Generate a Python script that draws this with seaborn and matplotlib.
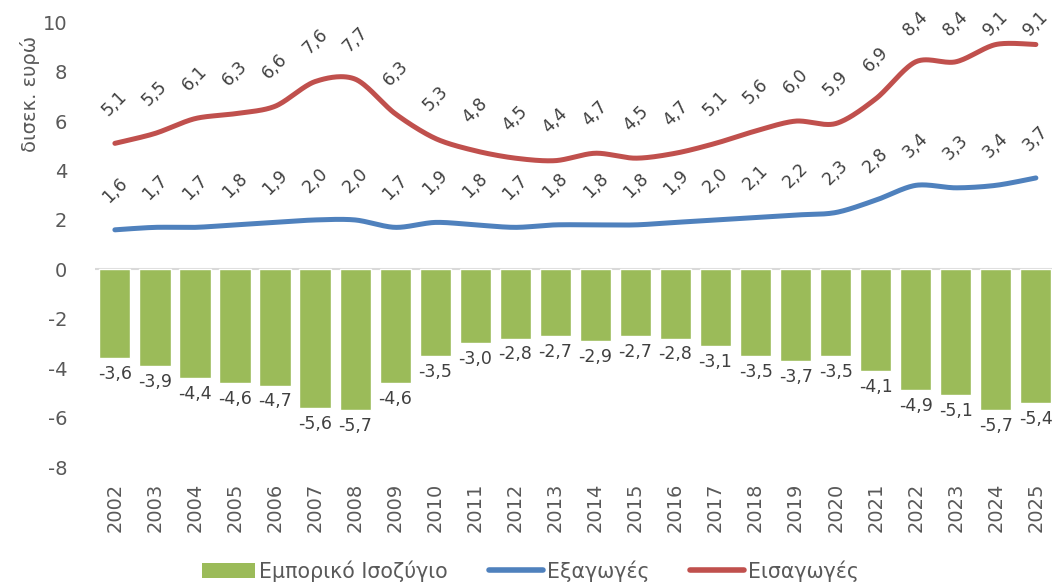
import numpy as np
import pandas as pd
import matplotlib
matplotlib.use("Agg")
import matplotlib.pyplot as plt
import seaborn as sns
from matplotlib.patches import Patch
from matplotlib.lines import Line2D

# data
years = [str(y) for y in range(2002, 2026)]
balance = [-3.6, -3.9, -4.4, -4.6, -4.7, -5.6, -5.7, -4.6, -3.5, -3.0, -2.8, -2.7,
           -2.9, -2.7, -2.8, -3.1, -3.5, -3.7, -3.5, -4.1, -4.9, -5.1, -5.7, -5.4]
exports = [1.6, 1.7, 1.7, 1.8, 1.9, 2.0, 2.0, 1.7, 1.9, 1.8, 1.7, 1.8,
           1.8, 1.8, 1.9, 2.0, 2.1, 2.2, 2.3, 2.8, 3.4, 3.3, 3.4, 3.7]
imports = [5.1, 5.5, 6.1, 6.3, 6.6, 7.6, 7.7, 6.3, 5.3, 4.8, 4.5, 4.4,
           4.7, 4.5, 4.7, 5.1, 5.6, 6.0, 5.9, 6.9, 8.4, 8.4, 9.1, 9.1]

GREEN = "#9BBB59"
BLUE = "#4F81BD"
RED = "#C0504D"
TXT = "#404040"
GREY = "#595959"


def smooth(y, n=30):
    # Catmull-Rom style smoothing like Excel's smoothed line
    y = np.asarray(y, dtype=float)
    x = np.arange(len(y), dtype=float)
    px = np.concatenate([[x[0]], x, [x[-1]]])
    py = np.concatenate([[y[0]], y, [y[-1]]])
    xs, ys = [], []
    for i in range(1, len(px) - 2):
        t = np.linspace(0, 1, n, endpoint=False)
        for arr, out in ((px, xs), (py, ys)):
            a, b, c, d = arr[i - 1], arr[i], arr[i + 1], arr[i + 2]
            m1 = (c - a) / 2 * 0.9
            m2 = (d - b) / 2 * 0.9
            h00 = 2 * t**3 - 3 * t**2 + 1
            h10 = t**3 - 2 * t**2 + t
            h01 = -2 * t**3 + 3 * t**2
            h11 = t**3 - t**2
            out.extend(h00 * b + h10 * m1 + h01 * c + h11 * m2)
    xs.append(x[-1])
    ys.append(y[-1])
    return np.array(xs), np.array(ys)


def fmt(v):
    return f"{v:.1f}".replace(".", ",")


sns.set_theme(style="white")
plt.rcParams["font.family"] = ["DejaVu Sans"]
plt.rcParams["axes.unicode_minus"] = False

fig = plt.figure(figsize=(10.54, 5.86), dpi=100)
ax = fig.add_axes([0.090, 0.203, 0.908, 0.759])

df = pd.DataFrame({"year": years, "balance": balance})
sns.barplot(data=df, x="year", y="balance", color=GREEN, width=0.78,
            saturation=1, ax=ax, zorder=2)

for i, v in enumerate(balance):
    ax.annotate(fmt(v), (i, v), xytext=(0, -5), textcoords="offset points",
                ha="center", va="top", fontsize=12.5, color=TXT)

# label offset above the line (~40 px), kept inside the plot area like Excel does
off = 1.62
for series, col in ((exports, BLUE), (imports, RED)):
    sx, sy = smooth(series)
    ax.plot(sx, sy, color=col, lw=3.6, solid_capstyle="round", zorder=3)
    for i, v in enumerate(series):
        ax.text(i, min(v + off, 9.95), fmt(v), ha="center", va="center",
                rotation=45, fontsize=12.5, color=TXT, rotation_mode="anchor")

ax.axhline(0, color="#D9D9D9", lw=1.5, zorder=1)
ax.set_ylim(-8, 10)
ax.set_xlim(-0.5, 23.4)
ax.set_yticks(range(-8, 11, 2))
ax.set_xlabel("")
ax.set_ylabel("")
ax.tick_params(axis="y", length=0, pad=20, labelsize=14, labelcolor=GREY)
ax.tick_params(axis="x", length=0, pad=11, labelsize=14, labelcolor=GREY, rotation=90)
for s in ax.spines.values():
    s.set_visible(False)

fig.text(30 / 1054, 1 - 94 / 586, "δισεκ. ευρώ", rotation=90, ha="center",
         va="center", fontsize=14, color=GREY)

handles = [Patch(facecolor=GREEN, edgecolor="none"),
           Line2D([], [], color=BLUE, lw=4, solid_capstyle="round"),
           Line2D([], [], color=RED, lw=4, solid_capstyle="round")]
labels = ["Εμπορικό Ισοζύγιο", "Εξαγωγές", "Εισαγωγές"]
fig.legend(handles, labels, loc="lower center", bbox_to_anchor=(0.503, -0.024), ncol=3,
           frameon=False, fontsize=14.8, handlelength=2.6, handleheight=0.7,
           handletextpad=0.2, columnspacing=2.0, labelcolor=GREY)

fig.savefig("out.png", dpi=100)
